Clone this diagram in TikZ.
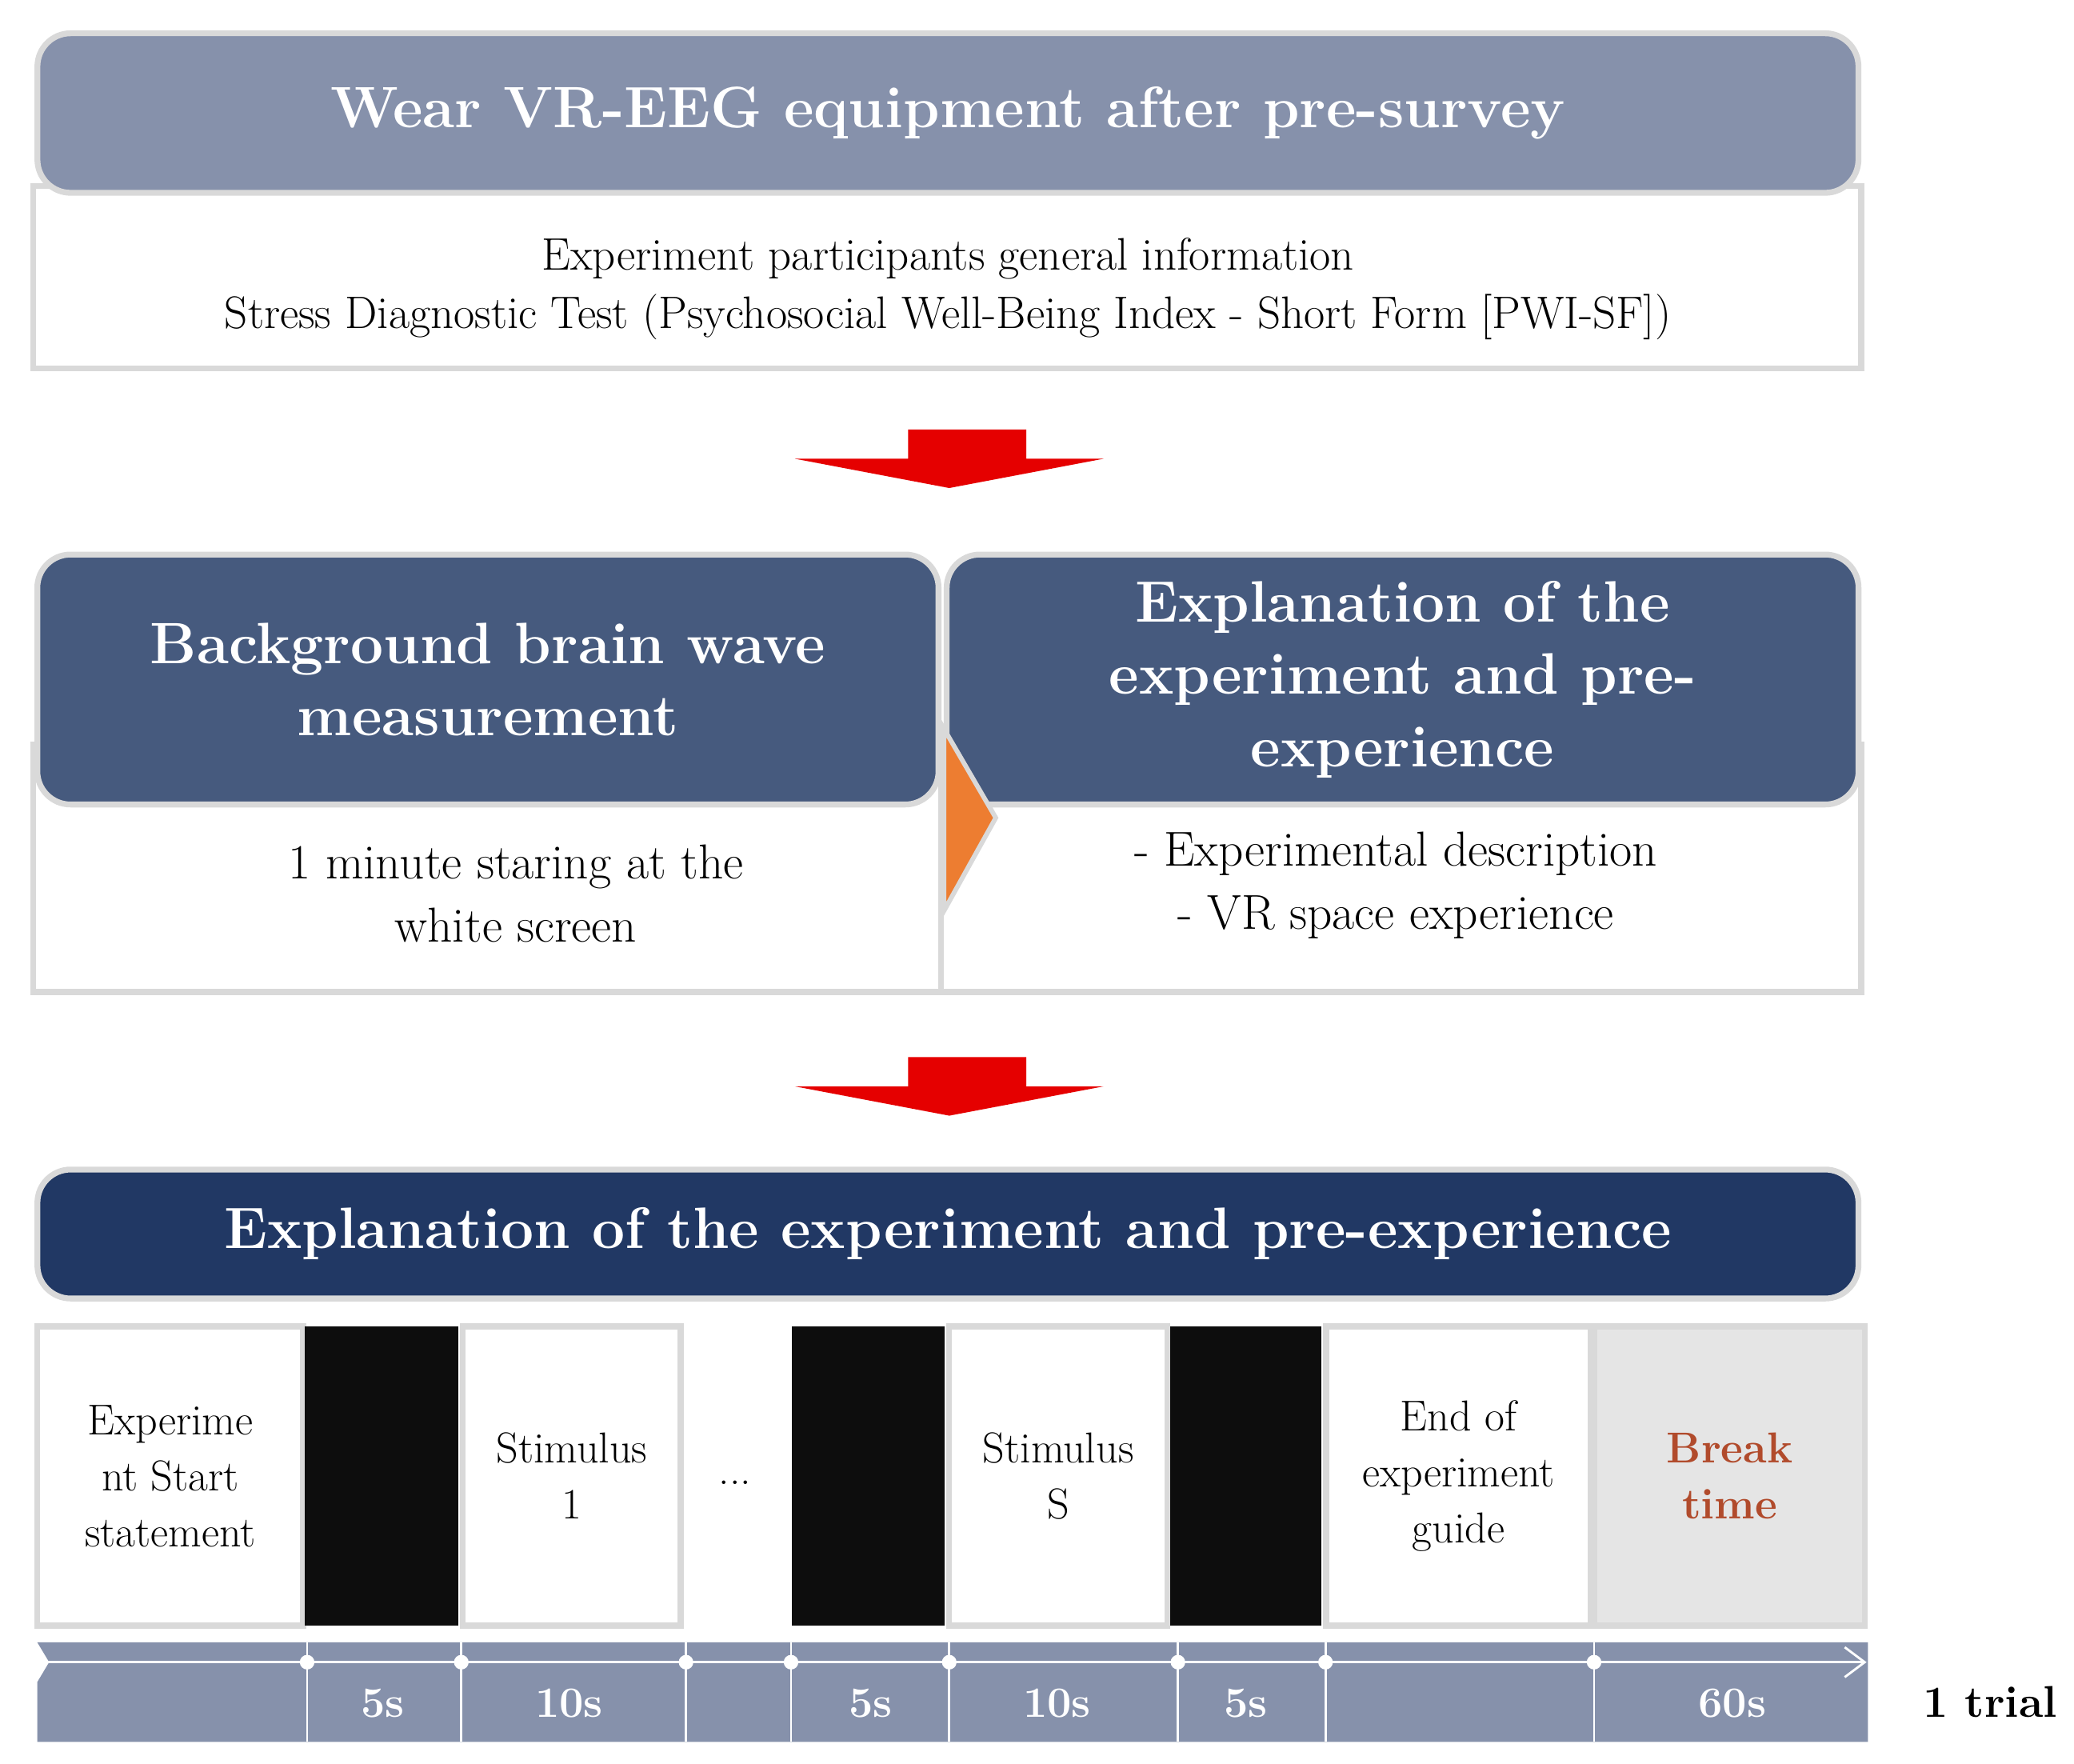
\documentclass[tikz,border=0pt]{standalone}
\usepackage{tikz}
\usetikzlibrary{arrows.meta, positioning, calc}
\definecolor{steel}{HTML}{8691AB}
\definecolor{slate}{HTML}{465A7E}
\definecolor{navy}{HTML}{213864}
\definecolor{rim}{HTML}{D9D9D9}
\definecolor{rust}{HTML}{B14B2C}
\definecolor{tangerine}{HTML}{ED7D31}
\begin{document}
\begin{tikzpicture}[
    x=0.02cm, y=-0.02cm,
    header/.style = {rectangle, rounded corners=0.5cm, draw=rim, line width=2.5pt, text=white, align=center, font=\fontsize{25}{31}\selectfont\bfseries},
    body/.style = {rectangle, draw=rim, line width=2.5pt, fill=white},
    txt/.style = {align=center, font=\fontsize{19.5}{25}\selectfont},
    cell/.style = {rectangle, draw=rim, line width=2.5pt, fill=white, minimum height=4.5cm, align=center, font=\fontsize{18.5}{24}\selectfont},
    blank/.style = {rectangle, fill=black!95, minimum height=4.5cm},
    dur/.style = {text=white, font=\fontsize{18.5}{22}\selectfont\bfseries},
    dot/.style = {circle, fill=white, inner sep=0pt, minimum size=0.22cm},
    redarrow/.style = {fill=red!90!black, draw=none}
]
\useasboundingbox (0,0) rectangle (1560,1326);

% step 1
\draw[body] (25,140) rectangle (1400,277);
\node[header, fill=steel, minimum width=27.4cm, minimum height=2.4cm] (wear) at (713,85) {Wear VR-EEG equipment after pre-survey};
\node[txt] (survey) at (713,217) {Experiment participants general information\\Stress Diagnostic Test (Psychosocial Well-Being Index - Short Form [PWI-SF])};

\fill[redarrow] (683,323) -- (772,323) -- (772,345) -- (830,345) -- (714,367) -- (598,345) -- (683,345) -- cycle;

% step 2
\draw[body] (25,560) rectangle (1400,746);
\draw[rim, line width=2.5pt] (708,560) -- (708,746);
\node[header, fill=slate, minimum width=13.56cm, minimum height=3.76cm] (background) at (367,511) {Background brain wave\\measurement};
\node[header, fill=slate, minimum width=13.72cm, minimum height=3.76cm] (explain) at (1055,511) {Explanation of the\\experiment and pre-\\experience};
\fill[tangerine, draw=rim, line width=2pt] (710,548) -- (749,615) -- (710,685) -- cycle;
\node[txt, font=\fontsize{21}{27}\selectfont] (staring) at (388,672) {1 minute staring at the\\white screen};
\node[txt, font=\fontsize{21}{27}\selectfont] (describe) at (1050,666) {- Experimental description\\- VR space experience};

\fill[redarrow] (683,795) -- (772,795) -- (772,817) -- (830,817) -- (714,839) -- (598,817) -- (683,817) -- cycle;

% step 3
\node[header, fill=navy, minimum width=27.4cm, minimum height=1.94cm] (trial) at (713,928) {Explanation of the experiment and pre-experience};

\node[cell, minimum width=4.0cm] (start) at (128,1110) {Experime\\nt Start\\statement};
\node[blank, minimum width=2.3cm] (fix1) at (287,1110) {};
\node[cell, minimum width=3.28cm] (stim1) at (430,1110) {Stimulus\\1};
\node[font=\fontsize{18.5}{22}\selectfont] (dots) at (553,1115) {...};
\node[blank, minimum width=2.3cm] (fix2) at (653,1110) {};
\node[cell, minimum width=3.28cm] (stimS) at (796,1110) {Stimulus\\S};
\node[blank, minimum width=2.28cm] (fix3) at (937,1110) {};
\node[cell, minimum width=3.98cm] (finish) at (1097,1110) {End of\\experiment\\guide};
\node[cell, fill=gray!20, minimum width=4.06cm, text=rust, font=\fontsize{18.5}{24}\selectfont\bfseries] (rest) at (1301,1110) {Break\\time};

% timeline
\fill[steel] (28,1235) -- (1405,1235) -- (1405,1310) -- (28,1310) -- (28,1265) -- (37,1250) -- (28,1235) -- cycle;
\coordinate (t0) at (30,1250);
\coordinate (t1) at (1404,1250);
\draw[white, line width=1pt, -{Straight Barb[length=0.3cm, width=0.45cm]}] (t0) -- (t1);
\foreach \px in {231,347,516,595,714,886,997,1199} {
  \draw[white, line width=1pt] (\px,1235) -- (\px,1310);
  \node[dot] at (\px,1250) {};
}
\node[dur] (d1) at (288,1281) {5s};
\node[dur] (d2) at (428,1281) {10s};
\node[dur] (d3) at (655,1281) {5s};
\node[dur] (d4) at (795,1281) {10s};
\node[dur] (d5) at (937,1281) {5s};
\node[dur] (d6) at (1303,1281) {60s};
\node[font=\fontsize{19}{22}\selectfont\bfseries] (onetrial) at (1497,1280) {1 trial};
\end{tikzpicture}
\end{document}
